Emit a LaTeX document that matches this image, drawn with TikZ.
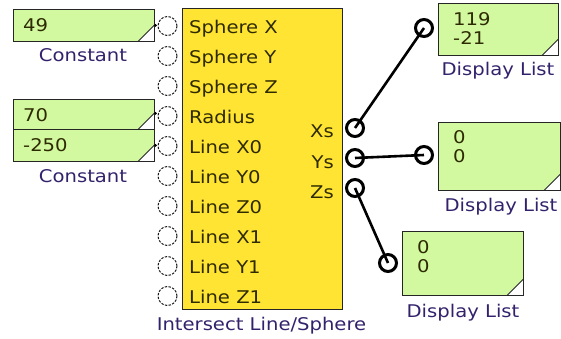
\documentclass[tikz,border=0pt]{standalone}
\usepackage{fontspec}
\setmainfont{DejaVu Sans}[FakeStretch=1.12]
\definecolor{boxgreen}{HTML}{D2F9A0}
\definecolor{blockyellow}{HTML}{FFE433}
\definecolor{lblcol}{HTML}{33226B}
\definecolor{txtcol}{HTML}{2E2A00}
\begin{document}
\begin{tikzpicture}[x=1pt,y=-1pt,
  every node/.style={font=\fontsize{17.5}{19}\selectfont, inner sep=0pt},
  corner/.style={path picture={
      \fill[white] (path picture bounding box.south east) -- ++(-17,0) -- ++(17,-17) -- cycle;
      \draw[line width=0.9pt] (path picture bounding box.south east) ++(-17,0) -- ++(17,-17);}},
  gbox/.style={draw=black!85, line width=1.4pt, fill=boxgreen, rectangle, anchor=north west, corner},
  yblock/.style={draw=black!85, line width=1.4pt, fill=blockyellow, rectangle, anchor=north west},
  inport/.style={circle, draw=black!90, fill=white, line width=1pt, dash pattern=on 2.4pt off 1.4pt, minimum size=19pt},
  outport/.style={circle, draw=black, fill=white, line width=3pt, minimum size=17pt},
  wire/.style={draw=black, line width=2.6pt},
  num/.style={anchor=base west, text=txtcol},
  plab/.style={anchor=base west, text=txtcol},
  olab/.style={anchor=base east, text=txtcol},
  lbl/.style={anchor=base, text=lblcol}
]
\useasboundingbox (0,0) rectangle (561,339);

% constants
\node[gbox, minimum width=141pt, minimum height=32pt] (c1) at (13,9) {};
\node[num] (c1t) at (23,32) {49};
\fill (c1.south east) ++(0,-17) circle (1.5pt);
\node[lbl] (c1l) at (83,62) {Constant};

\node[gbox, minimum width=141pt, minimum height=30pt] (c2) at (13,99) {};
\node[num] (c2t) at (23,122) {70};
\fill (c2.south east) ++(0,-17) circle (1.5pt);
\node[gbox, minimum width=141pt, minimum height=32pt] (c3) at (13,129) {};
\node[num] (c3t) at (23,151.5) {-250};
\fill (c3.south east) ++(0,-17) circle (1.5pt);
\node[lbl] (c2l) at (83,182) {Constant};

% main block
\node[yblock, minimum width=160pt, minimum height=301pt] (blk) at (182,8) {};
\node[lbl] (blkl) at (261.5,330) {Intersect Line/Sphere};

\foreach \i/\t in {0/Sphere X,1/Sphere Y,2/Sphere Z,3/Radius,4/Line X0,5/Line Y0,6/Line Z0,7/Line X1,8/Line Y1,9/Line Z1}{
  \node[inport] (in\i) at (167.5,{26+30*\i}) {};
  \node[plab] (lab\i) at (189,{33.5+30*\i}) {\t};
}

\node[olab] (xsl) at (334,138) {Xs};
\node[olab] (ysl) at (334,168) {Ys};
\node[olab] (zsl) at (334,198) {Zs};
\node[outport] (xs) at (355,128) {};
\node[outport] (ys) at (355,158) {};
\node[outport] (zs) at (355,188) {};

% displays
\node[gbox, minimum width=120pt, minimum height=52pt] (d1) at (438,3) {};
\node[num] (d1a) at (453,26) {119};
\node[num] (d1b) at (453,45) {-21};
\node[lbl] (d1l) at (498,76) {Display List};

\node[gbox, minimum width=122pt, minimum height=68pt] (d2) at (438,122) {};
\node[num] (d2a) at (453,143) {0};
\node[num] (d2b) at (453,162) {0};
\node[lbl] (d2l) at (501,211) {Display List};

\node[gbox, minimum width=121pt, minimum height=64pt] (d3) at (402,231) {};
\node[num] (d3a) at (417,253) {0};
\node[num] (d3b) at (417,272) {0};
\node[lbl] (d3l) at (463,317) {Display List};

\node[outport] (d1p) at (424,28) {};
\node[outport] (d2p) at (424,155) {};
\node[outport] (d3p) at (388,263) {};

% wires
\draw[wire] (xs.center) -- (d1p.center);
\draw[wire] (ys.center) -- (d2p.center);
\draw[wire] (zs.center) -- (d3p.center);
\end{tikzpicture}
\end{document}
